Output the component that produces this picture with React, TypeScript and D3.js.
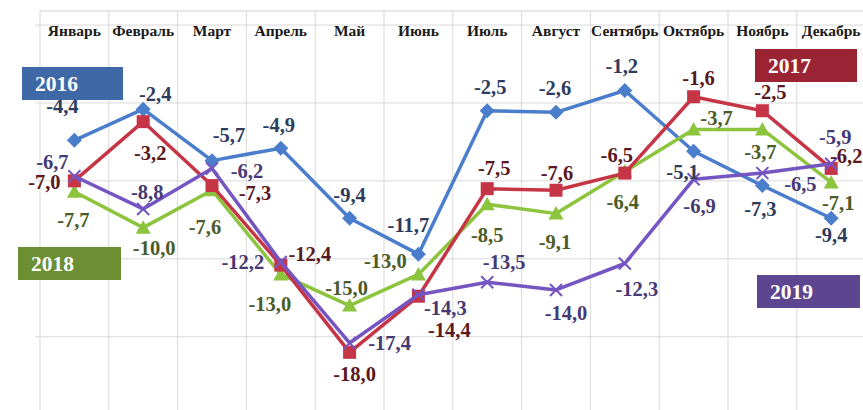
import React from "react";
import * as d3 from "d3";

const months = ["Январь", "Февраль", "Март", "Апрель", "Май", "Июнь", "Июль", "Август", "Сентябрь", "Октябрь", "Ноябрь", "Декабрь"];
const years = ["2016", "2017", "2018", "2019"];
const values2016 = [-4.4, -2.4, -5.7, -4.9, -9.4, -11.7, -2.5, -2.6, -1.2, -5.1, -7.3, -9.4];
const values2017 = [-7.0, -3.2, -7.3, -12.4, -18.0, -14.4, -7.5, -7.6, -6.5, -1.6, -2.5, -6.2];
const values2018 = [-7.7, -10.0, -7.6, -13.0, -15.0, -13.0, -8.5, -9.1, -6.4, -3.7, -3.7, -7.1];
const values2019 = [-6.7, -8.8, -6.2, -12.2, -17.4, -14.3, -13.5, -14.0, -12.3, -6.9, -6.5, -5.9];
const gridValues = [3, -2, -7, -12, -17];

// label offsets (layout only)
const off2016: [number, number][] = [[-12, -35], [12, -15], [17, -26], [-2, -23], [0, -23], [-10, -29], [3, -24], [-1, -24], [-3, -25], [-11, 21], [-2, 23], [0, 17]];
const off2017: [number, number][] = [[-30, 1], [7, 31], [43, 7], [29, -11], [5, 21], [31, 34], [7, -21], [1, -17], [-8, -18], [5, -19], [8, -19], [15, -13]];
const off2018: [number, number][] = [[-1, 28], [11, 20], [-7, 37], [-11, 29], [-3, -18], [-33, -14], [0, 31], [-1, 28], [-2, 30], [23, -12], [-2, 22], [7, 20]];
const off2019: [number, number][] = [[-22, -14], [4, -17], [35, 2], [-38, 0], [40, 0], [27, 13], [17, -20], [10, 23], [12, 25], [6, 26], [38, 11], [4, -27]];

const W = 863;
const H = 410;
const x = d3.scaleBand<string>().domain(months).range([40, 865.6]).padding(0);
const y = d3.scaleLinear().domain([3.9, -21.7]).range([11, 410]);
const cx = (i: number) => (x(months[i]) as number) + x.bandwidth() / 2;

const FONT = "'Liberation Serif', 'Times New Roman', serif";

type Series = {
  name: string;
  values: number[];
  offsets: [number, number][];
  color: string;
  labelColor: string;
  marker: "diamond" | "square" | "triangle" | "x";
};

const series: Series[] = [
  { name: years[0], values: values2016, offsets: off2016, color: "#4a7dcc", labelColor: "#2e3c5c", marker: "diamond" },
  { name: years[2], values: values2018, offsets: off2018, color: "#8cc43e", labelColor: "#4b5c28", marker: "triangle" },
  { name: years[1], values: values2017, offsets: off2017, color: "#c63546", labelColor: "#5a1820", marker: "square" },
  { name: years[3], values: values2019, offsets: off2019, color: "#7455c2", labelColor: "#463a74", marker: "x" },
];

const legend = [
  { name: years[0], color: "#3f69a6", x: 22, y: 67, w: 101, h: 33 },
  { name: years[1], color: "#9a2434", x: 755, y: 49, w: 102, h: 33 },
  { name: years[2], color: "#6c8f33", x: 18, y: 247, w: 103, h: 33 },
  { name: years[3], color: "#5d4690", x: 757, y: 275, w: 103, h: 33 },
];

function Marker({ kind, px, py, color }: { kind: Series["marker"]; px: number; py: number; color: string }) {
  if (kind === "diamond") {
    const s = 7.5;
    return <path d={`M${px},${py - s}L${px + s},${py}L${px},${py + s}L${px - s},${py}Z`} fill={color} />;
  }
  if (kind === "square") {
    const s = 6.5;
    return <rect x={px - s} y={py - s} width={s * 2} height={s * 2} fill={color} />;
  }
  if (kind === "triangle") {
    const s = 7.5;
    return <path d={`M${px},${py - s}L${px + s},${py + s * 0.8}L${px - s},${py + s * 0.8}Z`} fill={color} />;
  }
  const s = 6;
  return (
    <path d={`M${px - s},${py - s}L${px + s},${py + s}M${px + s},${py - s}L${px - s},${py + s}`} stroke={color} strokeWidth={2} fill="none" />
  );
}

export default function App() {
  const line = d3
    .line<number>()
    .x((_, i) => cx(i))
    .y((v) => y(v));

  const fmt = (v: number) => v.toFixed(1).replace(".", ",");

  return (
    <svg width={W} height={H} style={{ position: "absolute", left: 0, top: 0, background: "#fff" }}>
      {/* gridlines */}
      {gridValues.map((g) => (
        <line key={"h" + g} x1={35} x2={W} y1={y(g)} y2={y(g)} stroke="#d9d9d9" strokeWidth={1} />
      ))}
      {d3.range(months.length + 1).map((i) => {
        const xv = 40 + i * x.bandwidth();
        return <line key={"v" + i} x1={xv} x2={xv} y1={y(3.9)} y2={H} stroke="#d9d9d9" strokeWidth={1} />;
      })}
      <line x1={40} x2={W} y1={y(3.9)} y2={y(3.9)} stroke="#cfcfcf" strokeWidth={1} />

      {/* month labels */}
      {months.map((m, i) => (
        <text key={m} x={cx(i)} y={36} textAnchor="middle" fontFamily={FONT} fontWeight="bold" fontSize={15.5} fill="#1a1a1a">
          {m}
        </text>
      ))}

      {/* lines */}
      {series.map((s) => (
        <g key={s.name}>
          <path d={line(s.values) || ""} fill="none" stroke={s.color} strokeWidth={3.5} strokeLinejoin="round" />
          {s.values.map((v, i) => (
            <Marker key={i} kind={s.marker} px={cx(i)} py={y(v)} color={s.color} />
          ))}
        </g>
      ))}

      {/* data labels */}
      {series.map((s) =>
        s.values.map((v, i) => (
          <text
            key={s.name + "l" + i}
            x={cx(i) + s.offsets[i][0]}
            y={y(v) + s.offsets[i][1]}
            dy="0.35em"
            textAnchor="middle"
            fontFamily={FONT}
            fontWeight="bold"
            fontSize={20.5}
            fill={s.labelColor}
          >
            {fmt(v)}
          </text>
        ))
      )}

      {/* legend boxes */}
      {legend.map((l) => (
        <g key={l.name}>
          <rect x={l.x} y={l.y} width={l.w} height={l.h} fill={l.color} />
          <text x={l.x + 13} y={l.y + l.h / 2} dy="0.35em" fontFamily={FONT} fontWeight="bold" fontSize={21.5} fill="#ffffff">
            {l.name}
          </text>
        </g>
      ))}
    </svg>
  );
}
